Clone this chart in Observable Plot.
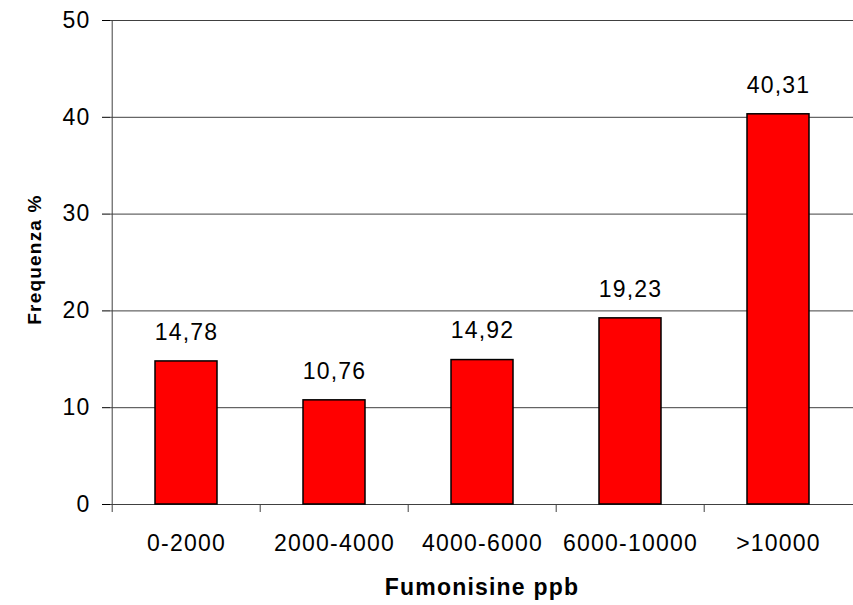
<!DOCTYPE html>
<html><head><meta charset="utf-8">
<script src="https://cdn.jsdelivr.net/npm/d3@7"></script>
<script src="https://cdn.jsdelivr.net/npm/@observablehq/plot@0.6"></script>
<style>body{margin:0;background:#fff}</style>
</head><body><div id="chart"></div>
<script>
const categories = ["0-2000", "2000-4000", "4000-6000", "6000-10000", ">10000"];
const values = [14.78, 10.76, 14.92, 19.23, 40.31];
const yTicks = [0, 10, 20, 30, 40, 50];
const xTitle = "Fumonisine ppb";
const yTitle = "Frequenza %";

const width = 853, height = 605, mL = 110, mR = 0, mT = 20, mB = 101;
const step = (width - mL - mR) / categories.length;
const data = categories.map((c, i) => ({cat: c, value: values[i]}));
const fmt = v => v.toFixed(2).replace(".", ",");
const gridColor = "#404040";

const plot = Plot.plot({
  width, height,
  marginLeft: mL, marginRight: mR, marginTop: mT, marginBottom: mB,
  style: {fontFamily: "'Liberation Sans', Arial, sans-serif", fontSize: "23px", letterSpacing: "1.2px", background: "white", color: "black", overflow: "visible"},
  x: {domain: categories, padding: 0, tickSize: 0, tickPadding: 30, label: null},
  y: {domain: [0, 50], ticks: yTicks, tickSize: 8, tickPadding: 12, label: null},
  marks: [
    Plot.ruleY(yTicks, {stroke: gridColor}),
    Plot.ruleX([categories[0]], {x: d => d, dx: -step / 2, y1: 50, y2: 0, insetBottom: -8, stroke: gridColor}),
    Plot.ruleX(categories.slice(1), {x: d => d, dx: -step / 2, y1: 0, y2: 0, insetBottom: -8, stroke: gridColor}),
    Plot.barY(data, {x: "cat", y: "value", fill: "#ff0000", stroke: "#000", strokeWidth: 1.5, insetLeft: 43, insetRight: 43}),
    Plot.text(data, {x: "cat", y: "value", text: d => fmt(d.value), dy: -29, fill: "black", fontSize: 23}),
    Plot.text([xTitle], {frameAnchor: "bottom", textAnchor: "middle", lineAnchor: "middle", dx: 0, dy: 83, fontWeight: "bold", fill: "black", fontSize: 23}),
    Plot.text([yTitle], {frameAnchor: "left", textAnchor: "middle", lineAnchor: "middle", dx: -76, dy: -3, rotate: -90, fontWeight: "bold", fill: "black", fontSize: 19})
  ]
});
document.getElementById("chart").appendChild(plot);
</script>
</body></html>
